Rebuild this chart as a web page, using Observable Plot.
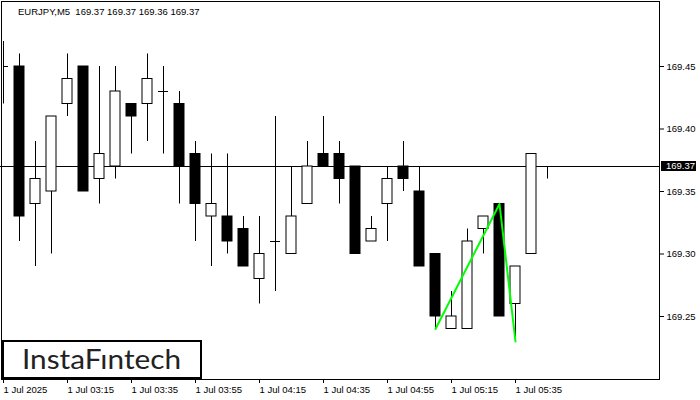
<!DOCTYPE html>
<html><head><meta charset="utf-8">
<script src="https://cdn.jsdelivr.net/npm/d3@7"></script>
<script src="https://cdn.jsdelivr.net/npm/@observablehq/plot@0.6"></script>
<style>
html,body{margin:0;padding:0;background:#fff;}
#chart{position:relative;width:700px;height:400px;overflow:hidden;}
</style></head><body><div id="chart"></div>
<script>
const symbol = "EURJPY,M5";
const lastOHLC = [169.37, 169.37, 169.36, 169.37];
const bars   = [0,1,2,3,4,5,6,7,8,9,10,11,12,13,14,15,16,17,18,19,20,21,22,23,24,25,26,27,28,29,30,31,32,33,34];
const opens  = [169.45,169.45,169.34,169.35,169.42,169.45,169.36,169.37,169.42,169.42,169.43,169.42,169.38,169.33,169.33,169.32,169.28,169.31,169.30,169.34,169.38,169.38,169.37,169.31,169.34,169.37,169.35,169.30,169.24,169.24,169.32,169.34,169.26,169.30,169.37];
const highs  = [169.47,169.46,169.39,169.41,169.46,169.45,169.45,169.45,169.42,169.46,169.45,169.43,169.39,169.38,169.38,169.33,169.33,169.41,169.37,169.39,169.41,169.39,169.37,169.33,169.37,169.39,169.37,169.30,169.27,169.32,169.33,169.34,169.29,169.38,169.37];
const lows   = [169.42,169.31,169.29,169.30,169.41,169.35,169.34,169.36,169.38,169.39,169.38,169.34,169.31,169.29,169.30,169.29,169.26,169.27,169.30,169.34,169.37,169.34,169.30,169.31,169.31,169.35,169.29,169.24,169.24,169.24,169.30,169.25,169.23,169.30,169.36];
const closes = [169.45,169.33,169.36,169.41,169.44,169.35,169.38,169.43,169.41,169.44,169.43,169.37,169.34,169.34,169.31,169.29,169.30,169.31,169.33,169.37,169.37,169.36,169.30,169.32,169.36,169.36,169.29,169.25,169.25,169.31,169.33,169.25,169.29,169.38,169.37];
const timeTicks  = [0,4,8,12,16,20,24,28,32];
const timeLabels = ["1 Jul 2025","1 Jul 03:15","1 Jul 03:35","1 Jul 03:55","1 Jul 04:15","1 Jul 04:35","1 Jul 04:55","1 Jul 05:15","1 Jul 05:35"];
const priceTicks = [169.25,169.30,169.35,169.40,169.45];
const lastPrice = 169.37;
const patternBars   = [27,31,32];
const patternPrices = [169.24,169.34,169.23];
const watermark = "InstaF\u0131ntech";

const candles = bars.map((b,i)=>({bar:b, open:opens[i], high:highs[i], low:lows[i], close:closes[i]}));
const bodies = candles.filter(d=>d.open!==d.close);
const dojis = candles.filter(d=>d.open===d.close);
const pattern = patternBars.map((b,i)=>({bar:b, price:patternPrices[i]}));
const half = 0.3125;

const plot = Plot.plot({
  width:700, height:400,
  marginLeft:3, marginRight:41, marginTop:4, marginBottom:21,
  style:{fontFamily:"'Liberation Sans', Arial, sans-serif", fontSize:"9.5px", color:"#000", background:"#fff", overflow:"visible"},
  x:{type:"linear", domain:[0,41], range:[3,659]},
  y:{type:"linear", domain:[169.2,169.5], range:[378.5,3.5]},
  color:{type:"identity"},
  marks:[
    Plot.ruleY([lastPrice], {stroke:"#000", insetLeft:-3}),
    Plot.ruleX(candles, {x:"bar", y1:"low", y2:"high", stroke:"#000", clip:"frame"}),
    Plot.rect(bodies, {x1:d=>d.bar-half, x2:d=>d.bar+half, y1:"open", y2:"close", fill:d=>d.close>d.open?"#fff":"#000", stroke:"#000", clip:"frame"}),
    Plot.ruleY(dojis, {y:"close", x1:d=>d.bar-half, x2:d=>d.bar+half, stroke:"#000", clip:"frame"}),
    Plot.line(pattern, {x:"bar", y:"price", stroke:"#00ff00", strokeWidth:2}),
    Plot.axisX({ticks:timeTicks, tickFormat:d=>timeLabels[timeTicks.indexOf(d)], tickSize:4, tickPadding:3, textAnchor:"start", label:null}),
    Plot.axisY({anchor:"right", ticks:priceTicks, tickFormat:d=>d.toFixed(2), tickSize:4, tickPadding:3, label:null})
  ]
});

const svg = d3.select(plot);
svg.append("rect").attr("x",1.5).attr("y",1.5).attr("width",658).attr("height",378)
  .attr("fill","none").attr("stroke","#000");
svg.append("text").attr("x",18).attr("y",14.5).attr("text-anchor","start").style("white-space","pre")
  .attr("font-size","9.5px").attr("fill","#000")
  .text(symbol + "  " + lastOHLC.map(v=>v.toFixed(2)).join(" "));
const yl = plot.scale("y").apply(lastPrice);
svg.append("rect").attr("x",661).attr("y",yl-5).attr("width",35).attr("height",10).attr("fill","#000");
svg.append("text").attr("x",666).attr("y",yl).attr("dy","0.34em").attr("text-anchor","start")
  .attr("fill","#fff").attr("font-size","9.5px")
  .text(lastPrice.toFixed(2));
svg.append("rect").attr("x",3).attr("y",341).attr("width",198).attr("height",37)
  .attr("fill","#fff").attr("stroke","#000").attr("stroke-width",2);
svg.append("text").attr("x",22).attr("y",369).attr("text-anchor","start").attr("font-family","Lato, 'Open Sans', sans-serif")
  .attr("font-size","27px").attr("fill","#222").attr("textLength",159).attr("lengthAdjust","spacingAndGlyphs")
  .text(watermark);

document.getElementById("chart").appendChild(plot);
</script>
</body></html>
